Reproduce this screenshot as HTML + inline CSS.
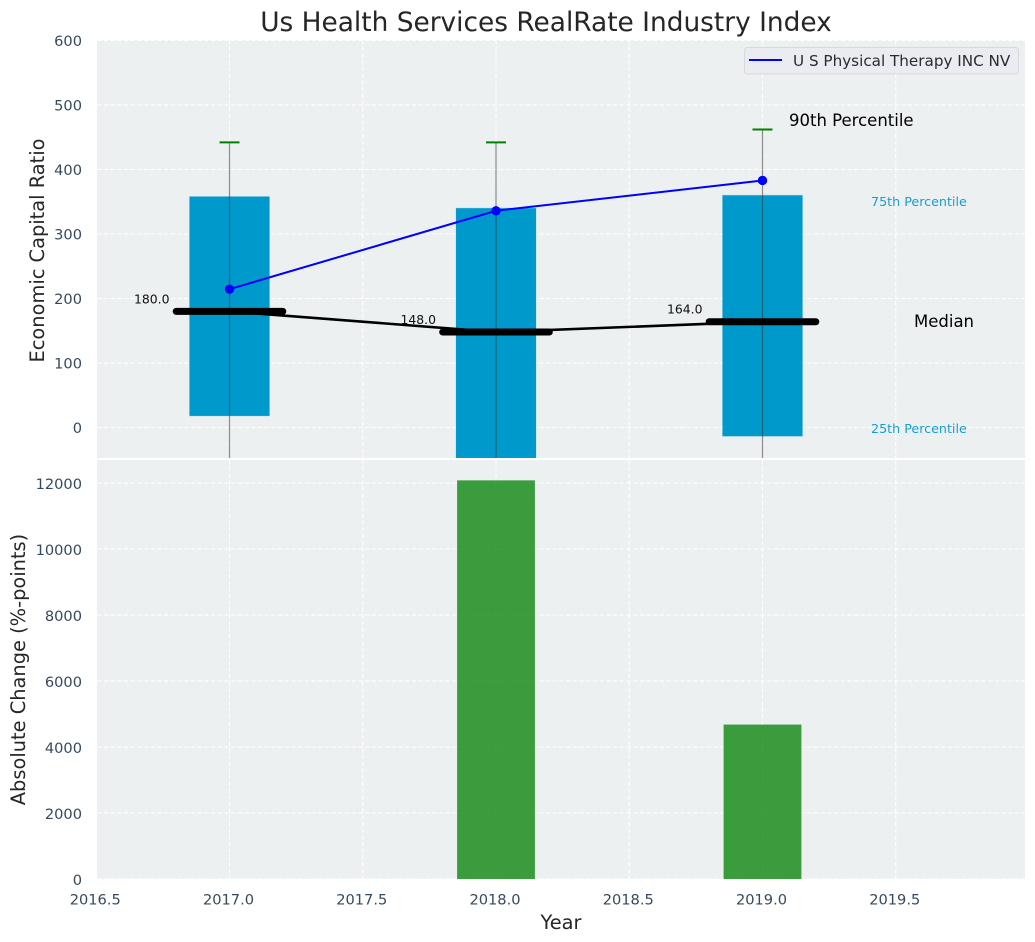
<!DOCTYPE html>
<html>
<head>
<meta charset="utf-8">
<title>Us Health Services RealRate Industry Index</title>
<style>
html,body{margin:0;padding:0;background:#fff;}
svg{display:block;font-family:"DejaVu Sans","Liberation Sans",sans-serif;}
</style>
</head>
<body>
<svg id="chart" xmlns="http://www.w3.org/2000/svg" width="1035" height="942" viewBox="0 0 1035 942">
<defs><clipPath id="top-clip"><rect x="97" y="40" width="928" height="418"/></clipPath></defs>
<rect x="97" y="40" width="928" height="418" fill="#ecf0f1"/>
<rect x="97" y="460" width="928" height="419" fill="#ecf0f1"/>
<g id="grid"></g>
<g id="top-marks" clip-path="url(#top-clip)"></g>
<g id="bottom-marks"></g>
<g id="ticks"></g>
<text x="546" y="31" text-anchor="middle" font-size="26.4px" fill="#262626">Us Health Services RealRate Industry Index</text>
<text transform="translate(44,250.5) rotate(-90)" text-anchor="middle" font-size="19.4px" fill="#262626">Economic Capital Ratio</text>
<text transform="translate(25,669.5) rotate(-90)" text-anchor="middle" font-size="19.4px" fill="#262626">Absolute Change (%-points)</text>
<text x="561" y="929" text-anchor="middle" font-size="19.4px" fill="#262626">Year</text>
<text x="789" y="126" font-size="16.5px" fill="#000">90th Percentile</text>
<text x="871" y="206" font-size="12.7px" fill="#169fcc">75th Percentile</text>
<text x="914" y="327" font-size="16.5px" fill="#000">Median</text>
<text x="871" y="433" font-size="12.7px" fill="#169fcc">25th Percentile</text>
<g>
<rect x="744.5" y="47.5" width="274" height="26.5" rx="3" fill="#eaecf1" stroke="#d8d9dc"/>
<line x1="749" x2="782" y1="60" y2="60" stroke="#0000ff" stroke-width="2"/>
<text x="793" y="66" font-size="15.2px" fill="#2b2b2b">U S Physical Therapy INC NV</text>
</g>
</svg>
<script>
const years = [2017, 2018, 2019];
const q25 = [18, -70, -13.5];
const q75 = [358, 340, 360];
const p90 = [442, 442, 462];
const p10 = [-100, -100, -100];
const medians = [180, 148, 164];
const company = [214.5, 336, 383];
const changes = [0, 12080, 4680];
const xTicks = [2016.5, 2017, 2017.5, 2018, 2018.5, 2019, 2019.5];
const topYTicks = [0, 100, 200, 300, 400, 500, 600];
const bottomYTicks = [0, 2000, 4000, 6000, 8000, 10000, 12000];

const NS = 'http://www.w3.org/2000/svg';
const xScale = v => 229.5 + (v - 2017) * 266.5;
const yTop = v => 427.5 - v * 0.645;
const yBottom = v => 879 - v * 0.033;
const BAR_HALF = 0.15;
const GREEN_HALF = 0.146;
const MED_HALF = 0.2;

function mk(parent, tag, attrs, text) {
  const el = document.createElementNS(NS, tag);
  for (const k in attrs) el.setAttribute(k, attrs[k]);
  if (text !== undefined) el.textContent = text;
  document.getElementById(parent).appendChild(el);
  return el;
}
const gridStyle = {stroke: '#ffffff', 'stroke-width': 1.1, 'stroke-dasharray': '4.5 2.2'};

xTicks.forEach(t => {
  let el = mk('grid', 'line', {x1: xScale(t), x2: xScale(t), y1: 40, y2: 458, ...gridStyle});
  
  
  el = mk('grid', 'line', {x1: xScale(t), x2: xScale(t), y1: 460, y2: 879, ...gridStyle});
  
  
  el = mk('ticks', 'text', {x: xScale(t) - 1, y: 904.5, 'text-anchor': 'middle', 'font-size': '14.6px', fill: '#34495e'}, t.toFixed(1));
  
  
});
topYTicks.forEach(t => {
  let el = mk('grid', 'line', {x1: 97, x2: 1025, y1: yTop(t), y2: yTop(t), ...gridStyle});
  
  
  el = mk('ticks', 'text', {x: 82, y: yTop(t) + 5.5, 'text-anchor': 'end', 'font-size': '14.6px', fill: '#34495e'}, String(t));
  
  
});
bottomYTicks.forEach(t => {
  let el = mk('grid', 'line', {x1: 97, x2: 1025, y1: yBottom(t), y2: yBottom(t), ...gridStyle});
  
  
  el = mk('ticks', 'text', {x: 82, y: yBottom(t) + 6, 'text-anchor': 'end', 'font-size': '14.6px', fill: '#34495e'}, String(t));
  
  
});

years.forEach((yr, i) => {
  const bar = mk('top-marks', 'rect', {x: xScale(yr - BAR_HALF), y: yTop(q75[i]), width: xScale(yr + BAR_HALF) - xScale(yr - BAR_HALF), height: yTop(q25[i]) - yTop(q75[i]), fill: '#0099cc', stroke: '#0099cc', 'stroke-opacity': 0.2, 'stroke-width': 1});
  
  
});
years.forEach((yr, i) => {
  const w = mk('top-marks', 'line', {x1: xScale(yr), x2: xScale(yr), y1: yTop(p90[i]), y2: yTop(p10[i]), stroke: '#333333', 'stroke-opacity': 0.55, 'stroke-width': 1.2});
  
  
  const cap = mk('top-marks', 'line', {x1: xScale(yr) - 10, x2: xScale(yr) + 10, y1: yTop(p90[i]), y2: yTop(p90[i]), stroke: '#008000', 'stroke-width': 2});
  
  
});

const medLine = mk('top-marks', 'polyline', {points: years.map((yr, i) => xScale(yr) + ',' + yTop(medians[i])).join(' '), fill: 'none', stroke: '#000', 'stroke-width': 2.6});


years.forEach((yr, i) => {
  const m = mk('top-marks', 'line', {x1: xScale(yr - MED_HALF), x2: xScale(yr + MED_HALF), y1: yTop(medians[i]), y2: yTop(medians[i]), stroke: '#000', 'stroke-width': 7, 'stroke-linecap': 'round'});
  
  
  const t = mk('top-marks', 'text', {x: xScale(yr) - 60, y: yTop(medians[i]) - 8, 'text-anchor': 'end', 'font-size': '12.4px', fill: '#111'}, medians[i].toFixed(1));
  
  
});

const compLine = mk('top-marks', 'polyline', {points: years.map((yr, i) => xScale(yr) + ',' + yTop(company[i])).join(' '), fill: 'none', stroke: '#0000ff', 'stroke-width': 2});


years.forEach((yr, i) => {
  const p = mk('top-marks', 'circle', {cx: xScale(yr), cy: yTop(company[i]), r: 4.7, fill: '#0000ff'});
  
  
});

years.forEach((yr, i) => {
  if (changes[i] <= 0) return;
  const b = mk('bottom-marks', 'rect', {x: xScale(yr - GREEN_HALF), y: yBottom(changes[i]), width: xScale(yr + GREEN_HALF) - xScale(yr - GREEN_HALF), height: yBottom(0) - yBottom(changes[i]), fill: '#008000', 'fill-opacity': 0.75});
  
  
});
</script>
</body>
</html>
